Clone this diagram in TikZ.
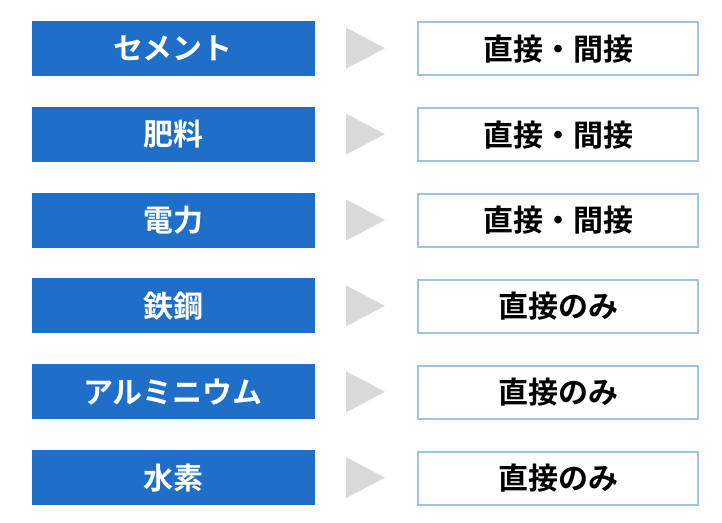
\documentclass[tikz,border=0pt]{standalone}
\usepackage{fontspec}
\setmainfont{Noto Sans CJK JP}[BoldFont={Noto Sans CJK JP Bold}]
\definecolor{boxblue}{HTML}{1F6FC8}
\definecolor{edgeblue}{HTML}{9DC3E6}
\definecolor{arrowgray}{HTML}{D9D9D9}
\begin{document}
\begin{tikzpicture}[x=1pt,y=-1pt,
  catbox/.style={fill=boxblue,draw=none,minimum width=283pt,minimum height=55pt,inner sep=0pt,text=white,font=\fontsize{30}{33}\selectfont\bfseries},
  scopebox/.style={fill=white,draw=edgeblue,line width=1.6pt,minimum width=280pt,minimum height=53pt,inner sep=0pt,text=black,font=\fontsize{30}{33}\selectfont\bfseries},
  tri/.style={fill=arrowgray,draw=none}]
\useasboundingbox (0,0) rectangle (722,522);
\foreach \i/\a/\b in {0/セメント/直接・間接,1/肥料/直接・間接,2/電力/直接・間接,3/鉄鋼/直接のみ,4/アルミニウム/直接のみ,5/水素/直接のみ}{
  \pgfmathsetmacro{\yc}{48.2+85.9*\i}
  \node[catbox] (c\i) at (173,\yc) {\a};
  \node[scopebox] (s\i) at (558,\yc+0.5) {\b};
  \coordinate (t\i) at (365.5,\yc);
  \fill[arrowgray] ([xshift=-19.5pt,yshift=-20.5pt]t\i) -- ([xshift=19.5pt]t\i) -- ([xshift=-19.5pt,yshift=20.5pt]t\i) -- cycle;
}
\end{tikzpicture}
\end{document}
